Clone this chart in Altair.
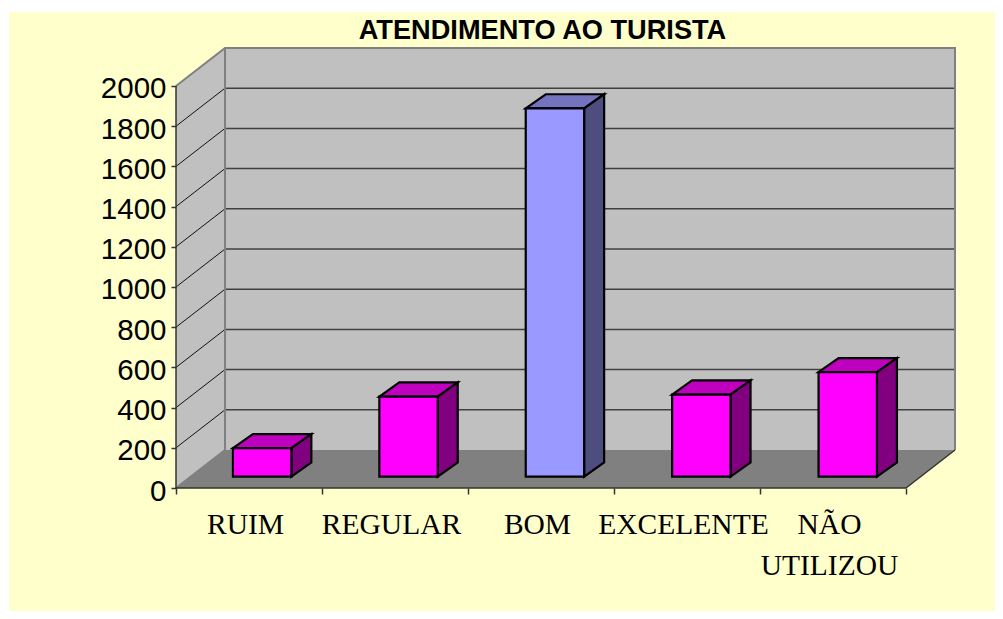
import altair as alt
import pandas as pd

CATEGORIES = ["RUIM", "REGULAR", "BOM", "EXCELENTE", "NÃO\nUTILIZOU"]
VALUES = [141, 398, 1832, 408, 519]
FRONT = ["#FF00FF", "#FF00FF", "#9999FF", "#FF00FF", "#FF00FF"]
TOP = ["#BF00BF", "#BF00BF", "#7373BF", "#BF00BF", "#BF00BF"]
SIDE = ["#800080", "#800080", "#4D4D80", "#800080", "#800080"]
TICKS = list(range(0, 2001, 200))
SLOTS = [0, 1, 2, 3, 4, 5]

# 3-D projection constants, in axis units
WALL_DX, WALL_DY = 49 / 146, 189
BAR_DX, BAR_DY = 20 / 146, 70
BAR_LEFT, BAR_WIDTH, BAR_BASE, BAR_STEP = 0.39, 0.40, 57, 146.4 / 146
XMAX = 5 + WALL_DX
YMAX = 2000 + WALL_DY

xs = alt.Scale(domain=[0, XMAX], nice=False, zero=False)
ys = alt.Scale(domain=[0, YMAX], nice=False)
X = alt.X("x:Q", scale=xs, title=None, axis=alt.Axis(
    values=SLOTS, labels=False, grid=False, domain=False, zindex=1,
    tickSize=6, tickColor="#333333", tickWidth=1.5))
Y = alt.Y("y:Q", scale=ys, title=None, axis=alt.Axis(
    values=TICKS, grid=False, domain=False, format="d", zindex=1,
    tickSize=5, tickColor="#333333", tickWidth=1.5, labelOffset=3,
    labelFont="Liberation Sans", labelFontSize=29.5, labelColor="black", labelPadding=5))


def area(rows, **mk):
    df = pd.DataFrame(rows, columns=["k", "x", "y", "y2", "c"])
    return alt.Chart(df).mark_area(**mk).encode(
        x=X, y=Y, y2="y2:Q",
        fill=alt.Fill("c:N", scale=None),
        detail="k:N",
    )


def lines(rows, **mk):
    df = pd.DataFrame(rows, columns=["k", "x", "y"])
    return alt.Chart(df).mark_line(**mk).encode(x=X, y=Y, detail="k:N")


panel = alt.Chart(pd.DataFrame({"a": [0]})).mark_rect(color="#FFFFCC", clip=False).encode(
    x=alt.value(-167), x2=alt.value(819), y=alt.value(-36), y2=alt.value(563)
)

left_wall = area([
    ("l", 0, 0, 0, "#C0C0C0"), ("l", 0, 2000, 0, "#C0C0C0"),
    ("l", WALL_DX, YMAX, WALL_DY, "#C0C0C0"),
])
back_wall = area([
    ("b", WALL_DX, YMAX, WALL_DY, "#C0C0C0"), ("b", XMAX, YMAX, WALL_DY, "#C0C0C0"),
])
floor = area([
    ("f", 0, 0, 0, "#808080"), ("f", WALL_DX, WALL_DY, 0, "#808080"),
    ("f", 5, WALL_DY, 0, "#808080"), ("f", XMAX, WALL_DY, WALL_DY, "#808080"),
])

back_grid = lines(
    [(v, x, v + WALL_DY) for v in TICKS[1:-1] for x in (WALL_DX, XMAX)],
    color="#404040", strokeWidth=1.5,
)
side_grid = lines(
    [(v, x, y) for v in TICKS[1:-1] for x, y in ((0, v), (WALL_DX, v + WALL_DY))],
    color="#111111", strokeWidth=1,
)
wall_edges = lines(
    [("top", 0, 2000), ("top", WALL_DX, YMAX), ("top", XMAX, YMAX), ("top", XMAX, WALL_DY),
     ("v", WALL_DX, YMAX), ("v", WALL_DX, WALL_DY), ("v2", WALL_DX, WALL_DY), ("v2", 0, 0)],
    color="#808080", strokeWidth=2,
)
axis_lines = lines(
    [("x", 0, 0), ("x", 5, 0), ("r", 5, 0), ("r", XMAX, WALL_DY),
     ("y", 0, 0), ("y", 0, 2000)],
    color="#333333", strokeWidth=1.5,
)

front_rows, side_rows, top_rows = [], [], []
for i, v in enumerate(VALUES):
    a = i * BAR_STEP + BAR_LEFT
    b = a + BAR_WIDTH
    base = BAR_BASE
    t = base + v
    front_rows += [(i, a, t, base, FRONT[i]), (i, b, t, base, FRONT[i])]
    side_rows += [(i, b, t, base, SIDE[i]), (i, b + BAR_DX, t + BAR_DY, base + BAR_DY, SIDE[i])]
    top_rows += [(i, a, t, t, TOP[i]), (i, a + BAR_DX, t + BAR_DY, t, TOP[i]),
                 (i, b, t + BAR_DY, t, TOP[i]), (i, b + BAR_DX, t + BAR_DY, t + BAR_DY, TOP[i])]

edge = dict(stroke="black", strokeWidth=2.2, strokeJoin="miter")
tops = area(top_rows, **edge)
sides = area(side_rows, **edge)
fronts = area(front_rows, **edge)

labels = alt.Chart(pd.DataFrame({
    "x": [i + 0.5 - 3.5 / 146 for i in range(5)],
    "t": CATEGORIES,
})).mark_text(
    font="Liberation Serif", fontSize=29.5, color="black", lineBreak="\n", lineHeight=41,
    baseline="top", align="center",
).encode(x=X, y=alt.value(463), text="t:N")

chart = alt.layer(
    panel, left_wall, back_wall, floor, back_grid, side_grid, wall_edges, axis_lines,
    tops, sides, fronts, labels,
).properties(
    width=779, height=440,
    padding={"left": 168, "top": 40, "right": 40, "bottom": 123},
    autosize=alt.AutoSizeParams(type="none"),
    background="white",
    title=alt.TitleParams("ATENDIMENTO AO TURISTA", font="Liberation Sans", fontSize=27.2,
                          fontWeight="bold", color="black", anchor="middle", dx=-23, dy=33, offset=0),
).configure_view(stroke=None)

chart.save("out.html", embed_options={"renderer": "svg", "actions": False})
